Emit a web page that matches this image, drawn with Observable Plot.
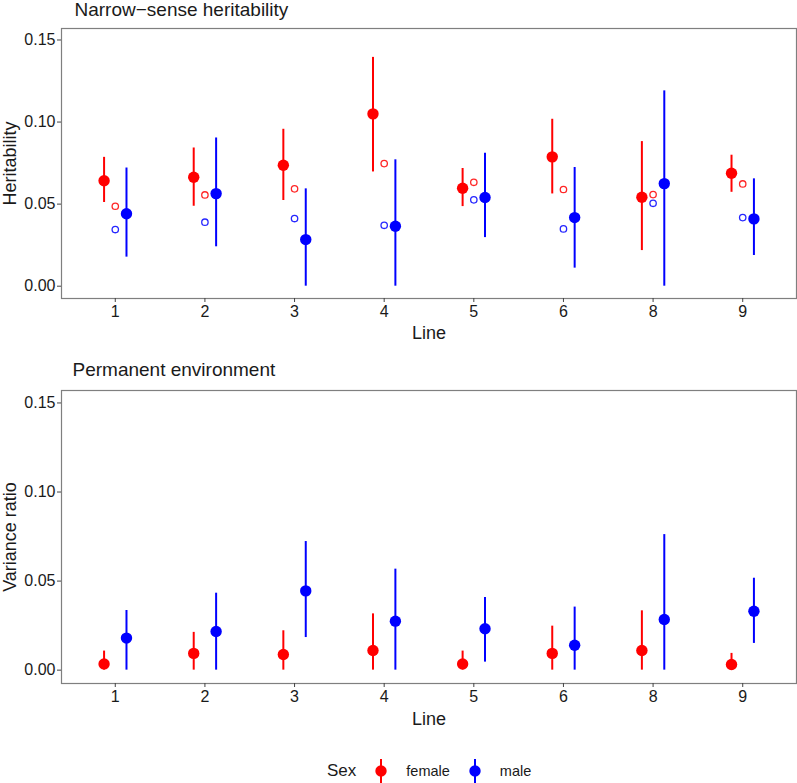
<!DOCTYPE html>
<html><head><meta charset="utf-8">
<script src="https://cdn.jsdelivr.net/npm/d3@7"></script>
<script src="https://cdn.jsdelivr.net/npm/@observablehq/plot@0.6"></script>
<style>
body{margin:0;background:#fff;font-family:"Liberation Sans",Arial,Helvetica,sans-serif;}
#chart{width:797px;height:783px;position:relative;background:#fff;}
#chart svg{display:block;}
g[aria-label="x-axis label"], g[aria-label="y-axis label"]{font-size:18px;}
#legend{position:absolute;left:327px;top:759px;display:flex;align-items:center;color:#1a1a1a;}
#legend .ttl{font-size:17px;margin-right:17px;}
#legend .lab{font-size:14.5px;margin-left:17px;margin-right:17px;}
</style></head><body><div id="chart"></div>
<script>
const lines = ["1","2","3","4","5","6","8","9"];
const sexes = ["female","male"];
const colors = ["#ff0000","#0000ff"];

// Narrow-sense heritability
const hFemaleEst = [0.0642,0.0664,0.0737,0.105,0.0597,0.0788,0.0542,0.0688];
const hFemaleLo  = [0.051,0.0487,0.0522,0.0696,0.0485,0.0562,0.0217,0.0572];
const hFemaleHi  = [0.0785,0.0842,0.0956,0.1394,0.0717,0.1017,0.0881,0.0798];
const hMaleEst   = [0.0441,0.0564,0.0284,0.0365,0.054,0.0418,0.0625,0.041];
const hMaleLo    = [0.0177,0.024,0,0,0.0296,0.011,0,0.0187];
const hMaleHi    = [0.072,0.0903,0.0593,0.077,0.081,0.0723,0.119,0.0654];
const hFemaleOpen = [0.0487,0.0556,0.0593,0.0747,0.0633,0.0589,0.0558,0.0623];
const hMaleOpen   = [0.0345,0.039,0.0412,0.0371,0.0526,0.0349,0.0505,0.0418];

// Permanent environment
const peFemaleEst = [0.0035,0.0094,0.0088,0.011,0.0035,0.0094,0.011,0.0032];
const peFemaleLo  = [0,0,0,0,0,0,0,0];
const peFemaleHi  = [0.0107,0.0212,0.0221,0.0316,0.0107,0.0247,0.0333,0.0094];
const peMaleEst   = [0.018,0.0217,0.0445,0.0275,0.0232,0.014,0.0284,0.0331];
const peMaleLo    = [0,0,0.0183,0,0.0045,0,0,0.015];
const peMaleHi    = [0.0335,0.0432,0.0722,0.0567,0.0408,0.0354,0.0761,0.0516];

const yTicks = [0,0.05,0.10,0.15];
const dodge = {female:-0.125, male:0.125};

function rowsFrom(fe, fl, fh, me, ml, mh) {
  const out = [];
  lines.forEach((ln, i) => {
    out.push({line: ln, pos: i + 1, sex: "female", est: fe[i], lo: fl[i], hi: fh[i]});
    out.push({line: ln, pos: i + 1, sex: "male", est: me[i], lo: ml[i], hi: mh[i]});
  });
  return out;
}
function openFrom(f, m) {
  const out = [];
  lines.forEach((ln, i) => {
    out.push({line: ln, pos: i + 1, sex: "female", val: f[i]});
    out.push({line: ln, pos: i + 1, sex: "male", val: m[i]});
  });
  return out;
}

function panel({title, ylabel, rows, open, height, marginTop, marginBottom, tdx, tdy}) {
  const xd = d => d.pos + dodge[d.sex];
  return Plot.plot({
    width: 797, height, marginTop, marginBottom, marginLeft: 61, marginRight: 1,
    style: {fontFamily: '"Liberation Sans",Arial,Helvetica,sans-serif', fontSize: "16px", color: "#1a1a1a", background: "white", overflow: "visible"},
    x: {domain: [0.4, 8.6]},
    y: {domain: [-0.0075, 0.157]},
    color: {domain: sexes, range: colors},
    marks: [
      Plot.frame({stroke: "#7f7f7f", strokeWidth: 1.2}),
      Plot.axisX({ticks: lines.map((d, i) => i + 1), tickFormat: v => lines[v - 1], tickSize: 4, tickPadding: 3, stroke: "#444", label: "Line", labelAnchor: "center", labelArrow: "none"}),
      Plot.axisY({ticks: yTicks, tickFormat: d3.format(".2f"), tickSize: 4, tickPadding: 2, stroke: "#444", label: ylabel, labelAnchor: "center", labelArrow: "none"}),
      Plot.ruleX(rows, {x: xd, y1: "lo", y2: "hi", stroke: "sex", strokeWidth: 2}),
      Plot.dot(rows, {x: xd, y: "est", fill: "sex", r: 5.7}),
      open ? Plot.dot(open, {x: "pos", y: "val", stroke: "sex", r: 3.2, strokeWidth: 1.3, strokeOpacity: 0.85}) : null,
      Plot.text([title], {frameAnchor: "top-left", dx: tdx, dy: tdy, textAnchor: "start", lineAnchor: "middle", fontSize: 19, fill: "#1a1a1a"})
    ]
  });
}

const chart = document.getElementById("chart");
chart.appendChild(panel({
  title: "Narrow\u2212sense heritability", ylabel: "Heritability",
  rows: rowsFrom(hFemaleEst, hFemaleLo, hFemaleHi, hMaleEst, hMaleLo, hMaleHi),
  open: openFrom(hFemaleOpen, hMaleOpen),
  height: 341, marginTop: 28, marginBottom: 43, tdx: 13, tdy: -19
}));
chart.appendChild(panel({
  title: "Permanent environment", ylabel: "Variance ratio",
  rows: rowsFrom(peFemaleEst, peFemaleLo, peFemaleHi, peMaleEst, peMaleLo, peMaleHi),
  open: null,
  height: 386, marginTop: 49, marginBottom: 44, tdx: 11, tdy: -21
}));

// legend
const legend = document.createElement("div");
legend.id = "legend";
const ttl = document.createElement("span");
ttl.className = "ttl"; ttl.textContent = "Sex";
legend.appendChild(ttl);
sexes.forEach((s, i) => {
  const key = d3.create("svg").attr("width", 16).attr("height", 24);
  key.append("line").attr("x1", 8).attr("x2", 8).attr("y1", 0).attr("y2", 24).attr("stroke", colors[i]).attr("stroke-width", 2);
  key.append("circle").attr("cx", 8).attr("cy", 12).attr("r", 5.7).attr("fill", colors[i]);
  legend.appendChild(key.node());
  const lab = document.createElement("span");
  lab.className = "lab"; lab.textContent = s;
  legend.appendChild(lab);
});
chart.appendChild(legend);
</script></body></html>
